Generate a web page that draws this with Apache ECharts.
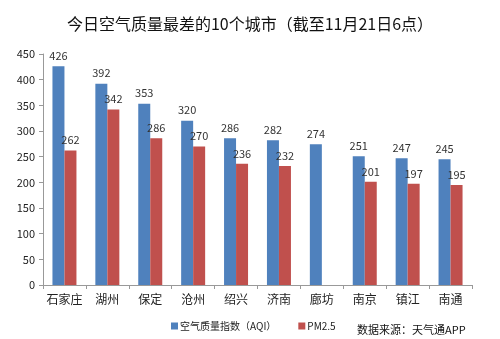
<!DOCTYPE html>
<html>
<head>
<meta charset="utf-8">
<script src="https://cdn.jsdelivr.net/npm/echarts@6/dist/echarts.min.js"></script>
<style>
  html, body { margin: 0; padding: 0; background: #fff; }
  #chart { width: 500px; height: 339px; }
</style>
</head>
<body>
<div id="chart"></div>
<script>
// Cities ranked by worst air quality
const cities = ['石家庄', '湖州', '保定', '沧州', '绍兴', '济南', '廊坊', '南京', '镇江', '南通'];
const aqiValues = [426, 392, 353, 320, 286, 282, 274, 251, 247, 245];
const pm25Values = [262, 342, 286, 270, 236, 232, null, 201, 197, 195];
const yTicks = [0, 50, 100, 150, 200, 250, 300, 350, 400, 450];

const FONT = '"Noto Sans CJK SC", "Noto Sans", sans-serif';
const chart = echarts.init(document.getElementById('chart'));

const labelStyle = {
  show: true,
  position: 'top',
  distance: 5,
  color: '#333',
  fontSize: 11,
  fontFamily: FONT
};

chart.setOption({
  animation: false,
  title: {
    text: '今日空气质量最差的10个城市（截至11月21日6点）',
    left: 'center',
    top: 11,
    textStyle: { fontSize: 16, fontWeight: 'normal', color: '#111', fontFamily: FONT }
  },
  legend: {
    left: 166,
    top: 316,
    itemWidth: 7,
    itemHeight: 7,
    itemGap: 22,
    icon: 'rect',
    textStyle: { fontSize: 10, color: '#222', fontFamily: FONT, padding: [0, 0, 0, -3] },
    data: ['空气质量指数（AQI）', 'PM2.5']
  },
  graphic: [{
    type: 'text',
    left: 357,
    top: 324,
    style: { text: '数据来源：天气通APP', fontSize: 11, fill: '#111', fontFamily: FONT }
  }],
  grid: { left: 43, right: 28, top: 54, bottom: 54, containLabel: false },
  xAxis: {
    type: 'category',
    data: cities,
    axisLine: { lineStyle: { color: '#999' } },
    axisTick: { show: true, alignWithLabel: false, interval: 0, length: 4, lineStyle: { color: '#999' } },
    axisLabel: { interval: 0, fontSize: 12, color: '#222', fontFamily: FONT, margin: 8 }
  },
  yAxis: {
    type: 'value',
    min: yTicks[0],
    max: yTicks[yTicks.length - 1],
    interval: 50,
    axisLine: { show: true, lineStyle: { color: '#999' } },
    axisTick: { show: true, length: 4, lineStyle: { color: '#999' } },
    splitLine: { show: false },
    axisLabel: { fontSize: 11, color: '#222', fontFamily: FONT, margin: 8 }
  },
  series: [
    {
      name: '空气质量指数（AQI）',
      type: 'bar',
      data: aqiValues,
      barWidth: 12,
      barGap: '0%',
      itemStyle: { color: '#4F81BD' },
      label: labelStyle
    },
    {
      name: 'PM2.5',
      type: 'bar',
      data: pm25Values,
      barWidth: 12,
      itemStyle: { color: '#C0504D' },
      label: labelStyle
    }
  ]
});
</script>
</body>
</html>
